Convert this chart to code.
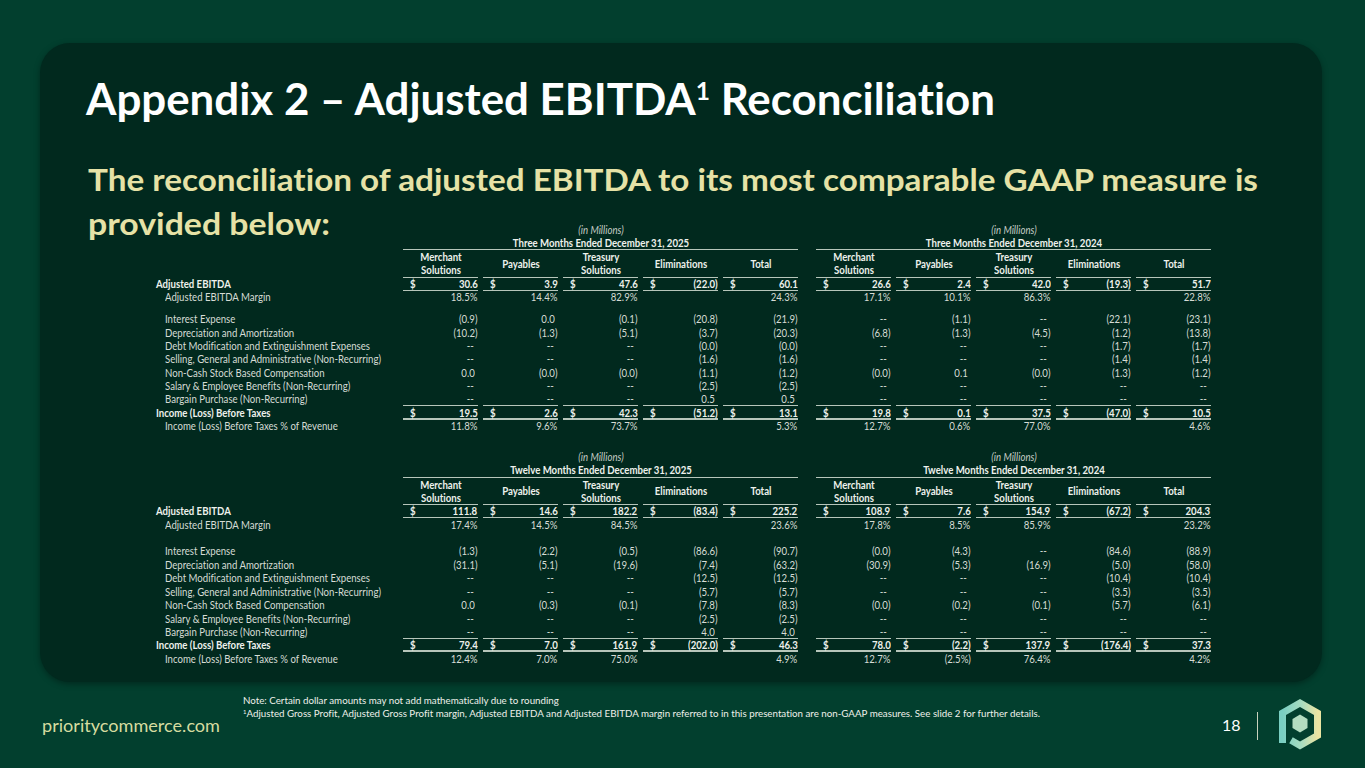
<!DOCTYPE html>
<html>
<head>
<meta charset="utf-8">
<script src="https://cdn.jsdelivr.net/npm/chart.js@4.4.0/dist/chart.umd.min.js"></script>
<style>
html,body{margin:0;padding:0;width:1365px;height:768px;overflow:hidden;background:#023f2e;font-family:Lato,"Noto Sans",sans-serif;font-variant-ligatures:none;font-feature-settings:"liga" 0,"clig" 0;}
#panel{position:absolute;left:40px;top:43px;width:1282px;height:639px;border-radius:30px;background:#01291e;box-shadow:0 2px 6px rgba(0,0,0,0.35);}
.a{position:absolute;white-space:nowrap;}
#title{left:86px;top:77px;font-size:43px;line-height:43px;font-weight:700;color:#ffffff;}
#title sup{font-size:24px;line-height:0;vertical-align:0;position:relative;top:-15px;}
.sub{left:88px;font-size:31px;line-height:31px;font-weight:700;color:#e6e2a6;}
.tt{position:absolute;white-space:nowrap;font-size:10.6px;line-height:12px;height:12px;color:#d6dcd5;}
.b{font-weight:700;color:#eef1ec;}
.i{font-style:italic;color:#c5ccc5;}
.ln{position:absolute;height:1px;background:#b7c6bb;}
.ln2{position:absolute;height:2px;background:#b7c6bb;}
#url{left:42px;top:715px;font-size:18px;line-height:20px;color:#d6dca0;}
#pg{left:1222px;top:715px;font-size:16px;line-height:20px;color:#ffffff;}
#bar{position:absolute;left:1257px;top:712px;width:1px;height:28px;background:#c9d2bd;}
.note{left:243px;font-size:9.8px;line-height:12px;color:#eef0ea;}
.note sup{font-size:6px;vertical-align:0;position:relative;top:-3px;}
</style>
</head>
<body>
<div id="panel"></div>
<div id="title" class="a">Appendix 2 – Adjusted EBITDA<sup>1</sup> Reconciliation</div>
<div id="sub1" class="a sub" style="top:164px;">The reconciliation of adjusted EBITDA to its most comparable GAAP measure is</div>
<div id="sub2" class="a sub" style="top:208px;">provided below:</div>
<div id="tables"></div>
<div id="note1" class="a note" style="top:694px;">Note: Certain dollar amounts may not add mathematically due to rounding</div>
<div id="note2" class="a note" style="top:707px;"><sup>1</sup>Adjusted Gross Profit, Adjusted Gross Profit margin, Adjusted EBITDA and Adjusted EBITDA margin referred to in this presentation are non-GAAP measures. See slide 2 for further details.</div>
<div id="url" class="a">prioritycommerce.com</div>
<div id="pg" class="a">18</div>
<div id="bar"></div>
<svg style="position:absolute;left:1270px;top:694px;" width="62" height="62" viewBox="1270 694 62 62">
  <defs>
    <linearGradient id="lg" x1="0" y1="0" x2="1" y2="0">
      <stop offset="0" stop-color="#79cfc2"/>
      <stop offset="0.55" stop-color="#a9dcc0"/>
      <stop offset="1" stop-color="#ebe4a2"/>
    </linearGradient>
  </defs>
  <path d="M1282.5 743 L1282.5 713 L1300 703 L1317.5 713 L1317.5 735.5 L1300 745.5 L1291 740.3" fill="none" stroke="url(#lg)" stroke-width="7" stroke-linejoin="miter"/>
  <polygon points="1300,714.5 1307.5,719 1307.5,728 1300,732.5 1292.5,728 1292.5,719" fill="#b3dcc0"/>
</svg>

<script>
// ---------- DATA ----------
const segments = ["Merchant|Solutions", "Payables", "Treasury|Solutions", "Eliminations", "Total"];
const rowLabels = [
  "Adjusted EBITDA",
  "Adjusted EBITDA Margin",
  "Interest Expense",
  "Depreciation and Amortization",
  "Debt Modification and Extinguishment Expenses",
  "Selling, General and Administrative (Non-Recurring)",
  "Non-Cash Stock Based Compensation",
  "Salary & Employee Benefits (Non-Recurring)",
  "Bargain Purchase (Non-Recurring)",
  "Income (Loss) Before Taxes",
  "Income (Loss) Before Taxes % of Revenue"
];
const unitLabel = "(in Millions)";
const periodTitles = [
  "Three Months Ended December 31, 2025",
  "Three Months Ended December 31, 2024",
  "Twelve Months Ended December 31, 2025",
  "Twelve Months Ended December 31, 2024"
];
// null = "--", "" = blank; -0 shows as (0.0)
const q4_2025 = [
  [30.6, 3.9, 47.6, -22.0, 60.1],
  [18.5, 14.4, 82.9, "", 24.3],
  [-0.9, 0.0, -0.1, -20.8, -21.9],
  [-10.2, -1.3, -5.1, -3.7, -20.3],
  [null, null, null, -0.0, -0.0],
  [null, null, null, -1.6, -1.6],
  [0.0, -0.0, -0.0, -1.1, -1.2],
  [null, null, null, -2.5, -2.5],
  [null, null, null, 0.5, 0.5],
  [19.5, 2.6, 42.3, -51.2, 13.1],
  [11.8, 9.6, 73.7, "", 5.3]
];
const q4_2024 = [
  [26.6, 2.4, 42.0, -19.3, 51.7],
  [17.1, 10.1, 86.3, "", 22.8],
  [null, -1.1, null, -22.1, -23.1],
  [-6.8, -1.3, -4.5, -1.2, -13.8],
  [null, null, null, -1.7, -1.7],
  [null, null, null, -1.4, -1.4],
  [-0.0, 0.1, -0.0, -1.3, -1.2],
  [null, null, null, null, null],
  [null, null, null, null, null],
  [19.8, 0.1, 37.5, -47.0, 10.5],
  [12.7, 0.6, 77.0, "", 4.6]
];
const fy_2025 = [
  [111.8, 14.6, 182.2, -83.4, 225.2],
  [17.4, 14.5, 84.5, "", 23.6],
  [-1.3, -2.2, -0.5, -86.6, -90.7],
  [-31.1, -5.1, -19.6, -7.4, -63.2],
  [null, null, null, -12.5, -12.5],
  [null, null, null, -5.7, -5.7],
  [0.0, -0.3, -0.1, -7.8, -8.3],
  [null, null, null, -2.5, -2.5],
  [null, null, null, 4.0, 4.0],
  [79.4, 7.0, 161.9, -202.0, 46.3],
  [12.4, 7.0, 75.0, "", 4.9]
];
const fy_2024 = [
  [108.9, 7.6, 154.9, -67.2, 204.3],
  [17.8, 8.5, 85.9, "", 23.2],
  [-0.0, -4.3, null, -84.6, -88.9],
  [-30.9, -5.3, -16.9, -5.0, -58.0],
  [null, null, null, -10.4, -10.4],
  [null, null, null, -3.5, -3.5],
  [-0.0, -0.2, -0.1, -5.7, -6.1],
  [null, null, null, null, null],
  [null, null, null, null, null],
  [78.0, -2.2, 137.9, -176.4, 37.3],
  [12.7, -2.5, 76.4, "", 4.2]
];

// ---------- LAYOUT ----------
const dollarRows = [0, 9];
const pctRows = [1, 10];
const boldRows = [0, 9];
const blocks = [
  { left: q4_2025, right: q4_2024, titles: [periodTitles[0], periodTitles[1]],
    unitY: 229.5, titleY: 242.5, topLine: 249, h1: 257, h2: 270, hUnder: 277,
    rows: [284, 297, 319, 332.5, 346, 359, 372.5, 386, 399, 412.5, 426],
    lineA: 290, lineB: 405.5, lineC: 418.5 },
  { left: fy_2025, right: fy_2024, titles: [periodTitles[2], periodTitles[3]],
    unitY: 457, titleY: 470, topLine: 477, h1: 484.5, h2: 497.5, hUnder: 504,
    rows: [511, 524.5, 551, 564.5, 578, 591.5, 605, 618.5, 632, 645, 659],
    lineA: 517.5, lineB: 638.5, lineC: 651 }
];
const groupX = [403, 816];
const colPitch = 80, colW = 75, labelX = 156, indentX = 165;

const host = document.getElementById('tables');
const texts = [];
function addText(txt, x, cy, align, cls) {
  const d = document.createElement('div');
  d.className = 'tt ' + (cls || '');
  d.textContent = txt;
  d.style.top = (cy - 6) + 'px';
  if (align === 'left') { d.style.left = x + 'px'; d.style.transformOrigin = 'left center'; }
  else if (align === 'right') { d.style.right = (1365 - x) + 'px'; d.style.textAlign = 'right'; d.style.transformOrigin = 'right center'; }
  else { d.style.left = (x - 150) + 'px'; d.style.width = '300px'; d.style.textAlign = 'center'; d.style.transformOrigin = 'center center'; }
  host.appendChild(d);
  texts.push(d);
  return d;
}
function addLine(x, y, w, thick) {
  const d = document.createElement('div');
  d.className = thick ? 'ln2' : 'ln';
  d.style.left = x + 'px'; d.style.top = (thick ? y - 1 : y - 0.5) + 'px'; d.style.width = w + 'px';
  host.appendChild(d);
}
function fmt(v, pct) {
  if (v === null) return '--';
  if (v === '') return '';
  const neg = v < 0 || Object.is(v, -0);
  const s = Math.abs(v).toFixed(1) + (pct ? '%' : '');
  return neg ? '(' + s + ')' : s;
}

blocks.forEach(bk => {
  rowLabels.forEach((lab, r) => {
    const bold = boldRows.includes(r);
    addText(lab, bold ? labelX : indentX, bk.rows[r], 'left', bold ? 'b' : '');
  });
  [bk.left, bk.right].forEach((data, g) => {
    const gx = groupX[g];
    const gw = colPitch * 4 + colW;
    const cx = gx + gw / 2;
    addText(unitLabel, cx, bk.unitY, 'center', 'i');
    addText(bk.titles[g], cx, bk.titleY, 'center', 'b');
    addLine(gx, bk.topLine, gw, false);
    segments.forEach((seg, c) => {
      const x0 = gx + c * colPitch, x1 = x0 + colW, mx = x0 + colW / 2;
      const parts = seg.split('|');
      if (parts.length === 2) {
        addText(parts[0], mx, bk.h1, 'center', 'b');
        addText(parts[1], mx, bk.h2, 'center', 'b');
      } else {
        addText(parts[0], mx, (bk.h1 + bk.h2) / 2, 'center', 'b');
      }
      addLine(x0, bk.hUnder, colW, false);
      addLine(x0, bk.lineA, colW, false);
      addLine(x0, bk.lineB, colW, false);
      addLine(x0, bk.lineC, colW, true);
      data.forEach((row, r) => {
        const v = row[c];
        const pct = pctRows.includes(r);
        const bold = boldRows.includes(r);
        const s = fmt(v, pct);
        if (s === '') return;
        if (dollarRows.includes(r)) addText('$', x0 + 7, bk.rows[r], 'left', 'b');
        const neg = typeof v === 'number' && (v < 0 || Object.is(v, -0));
        let rx = x1 - 0.5;
        if (!pct && !neg && !bold) rx = x1 - 3.5;
        if (v === null) rx = x1 - 4;
        addText(s, rx, bk.rows[r], 'right', bold ? 'b' : '');
      });
    });
  });
});

function fitTo(el, w) {
  const cur = el.getBoundingClientRect().width;
  el.style.transformOrigin = 'left center';
  el.style.transform = 'scaleX(' + (w / cur) + ')';
}
function finish() {
  fitTo(document.getElementById('title'), 909);
  fitTo(document.getElementById('sub1'), 1170);
  fitTo(document.getElementById('sub2'), 242);
  fitTo(document.getElementById('url'), 178);
  fitTo(document.getElementById('note2'), 797);
  const n2 = document.getElementById('note2');
  document.getElementById('note1').style.transformOrigin = 'left center';
  document.getElementById('note1').style.transform = n2.style.transform;
  const ref = texts.find(t => t.textContent === rowLabels[5]);
  const f = 216 / ref.getBoundingClientRect().width;
  texts.forEach(t => { t.style.transform = 'scaleX(' + f + ')'; });
}
if (document.fonts && document.fonts.ready) document.fonts.ready.then(finish); else finish();
</script>
</body>
</html>
